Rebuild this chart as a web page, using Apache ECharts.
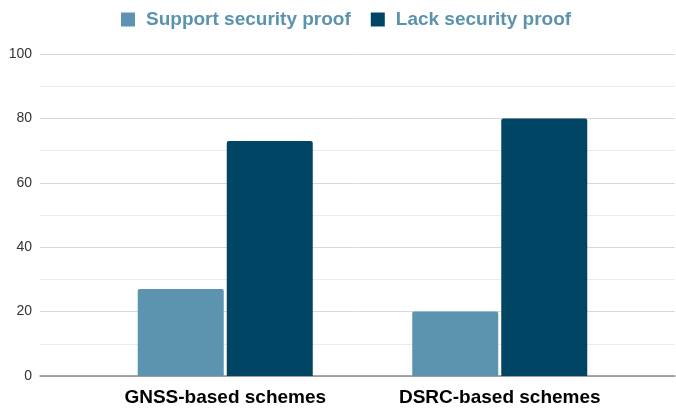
<!DOCTYPE html>
<html><head><meta charset="utf-8">
<script src="https://cdn.jsdelivr.net/npm/echarts@6/dist/echarts.min.js"></script>
<style>html,body{margin:0;padding:0;background:#fff}#c{width:676px;height:409px}</style>
</head><body><div id="c"></div>
<script>
const categories = ["GNSS-based schemes", "DSRC-based schemes"];
const supportProof = [27, 20];
const lackProof = [73, 80];
const seriesNames = ["Support security proof", "Lack security proof"];

const chart = echarts.init(document.getElementById('c'));
chart.setOption({
  animation: false,
  textStyle: { fontFamily: 'Liberation Sans, Arial, sans-serif' },
  legend: {
    top: 5, left: 116,
    itemWidth: 14, itemHeight: 14, itemGap: 20,
    icon: 'rect',
    textStyle: { fontSize: 19, fontWeight: 'bold', color: '#5b93ae', padding: [0, 0, 0, 6],
      fontFamily: 'Liberation Sans, Arial, sans-serif' },
    data: seriesNames
  },
  grid: [
    { left: 40, right: 1, top: 54, bottom: 33 },
    { left: 88, right: 39, top: 54, bottom: 33 }
  ],
  xAxis: [
    { gridIndex: 0, type: 'value', min: 0, max: 1, axisLabel: { show: false }, axisTick: { show: false }, splitLine: { show: false },
      axisLine: { show: true, lineStyle: { color: '#8a8a8a', width: 1.5 } } },
    { gridIndex: 1, type: 'category', data: categories, axisLine: { show: false }, axisTick: { show: false },
      axisLabel: { fontSize: 19, fontWeight: 'bold', color: '#000', margin: 12 } }
  ],
  yAxis: [
    { gridIndex: 0, type: 'value', min: 0, max: 100, interval: 20,
      axisLine: { show: false }, axisTick: { show: false },
      axisLabel: { fontSize: 14, color: '#333', margin: 8 },
      splitLine: { lineStyle: { color: '#d9d9d9', width: 1 } },
      minorTick: { show: false, splitNumber: 2 },
      minorSplitLine: { show: true, lineStyle: { color: '#ebebeb', width: 1 } } },
    { gridIndex: 1, type: 'value', min: 0, max: 100, show: false, splitLine: { show: false } }
  ],
  series: [
    { name: seriesNames[0], type: 'bar', xAxisIndex: 1, yAxisIndex: 1, data: supportProof,
      barWidth: 86, barGap: '3.5%', itemStyle: { color: '#5b93b0', borderRadius: [2, 2, 0, 0] } },
    { name: seriesNames[1], type: 'bar', xAxisIndex: 1, yAxisIndex: 1, data: lackProof,
      barWidth: 86, barGap: '3.5%', itemStyle: { color: '#004563', borderRadius: [2, 2, 0, 0] } }
  ]
});
</script></body></html>
